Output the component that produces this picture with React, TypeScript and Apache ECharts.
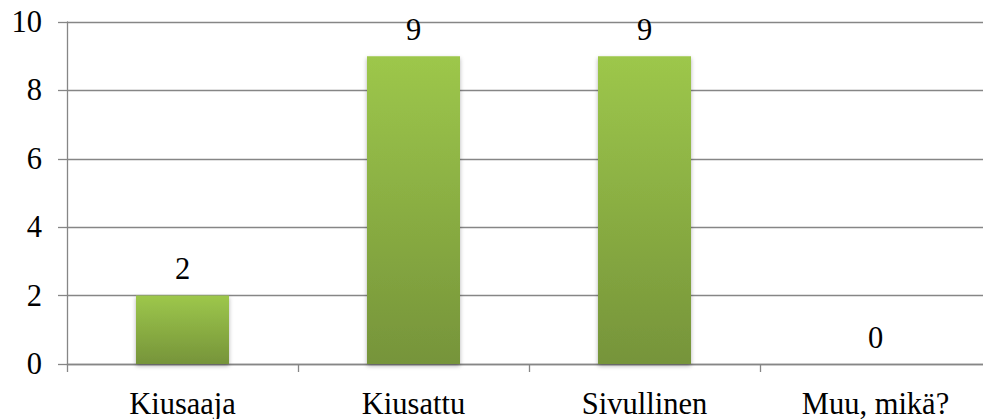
import React, { useEffect, useRef } from "react";
import * as echarts from "echarts";

const categories = ["Kiusaaja", "Kiusattu", "Sivullinen", "Muu, mikä?"];
const values = [2, 9, 9, 0];
const yTicks = { min: 0, max: 10, interval: 2 };

const FONT = "Liberation Serif";
const GRAY = "#868686";
const FS = 30.5;

export default function App() {
  const ref = useRef<HTMLDivElement>(null);
  useEffect(() => {
    if (!ref.current) return;
    const chart = echarts.init(ref.current, null, { renderer: "svg" });
    chart.setOption({
      animation: false,
      backgroundColor: "#ffffff",
      textStyle: { fontFamily: FONT },
      grid: { left: 67, right: 0, top: 22, bottom: 55, containLabel: false },
      xAxis: {
        type: "category",
        data: categories,
        axisLine: { show: true, lineStyle: { color: GRAY, width: 1.3 } },
        axisTick: { show: true, length: 8, alignWithLabel: false, lineStyle: { color: GRAY, width: 1.3 } },
        axisLabel: { color: "#000", fontFamily: FONT, fontSize: FS, margin: 24 },
      },
      yAxis: {
        type: "value",
        min: yTicks.min,
        max: yTicks.max,
        interval: yTicks.interval,
        axisLine: { show: true, lineStyle: { color: GRAY, width: 1.3 } },
        axisTick: { show: true, length: 9, lineStyle: { color: GRAY, width: 1.3 } },
        splitLine: { show: true, lineStyle: { color: GRAY, width: 1.3 } },
        axisLabel: { color: "#000", fontFamily: FONT, fontSize: FS, margin: 25 },
      },
      series: [
        {
          type: "bar",
          data: values,
          barWidth: 93,
          itemStyle: {
            color: new echarts.graphic.LinearGradient(0, 0, 0, 1, [
              { offset: 0, color: "#9dc74b" },
              { offset: 1, color: "#76943a" },
            ]),
            shadowBlur: 4,
            shadowColor: "rgba(0,0,0,0.3)",
            shadowOffsetY: 2,
          },
          label: {
            show: true,
            position: "top",
            distance: 11,
            color: "#000",
            fontFamily: FONT,
            fontSize: FS,
          },
        },
      ],
    });
    return () => chart.dispose();
  }, []);
  return (
    <div
      ref={ref}
      style={{ position: "fixed", left: 0, top: 0, width: 991, height: 419, overflow: "hidden" }}
    />
  );
}
